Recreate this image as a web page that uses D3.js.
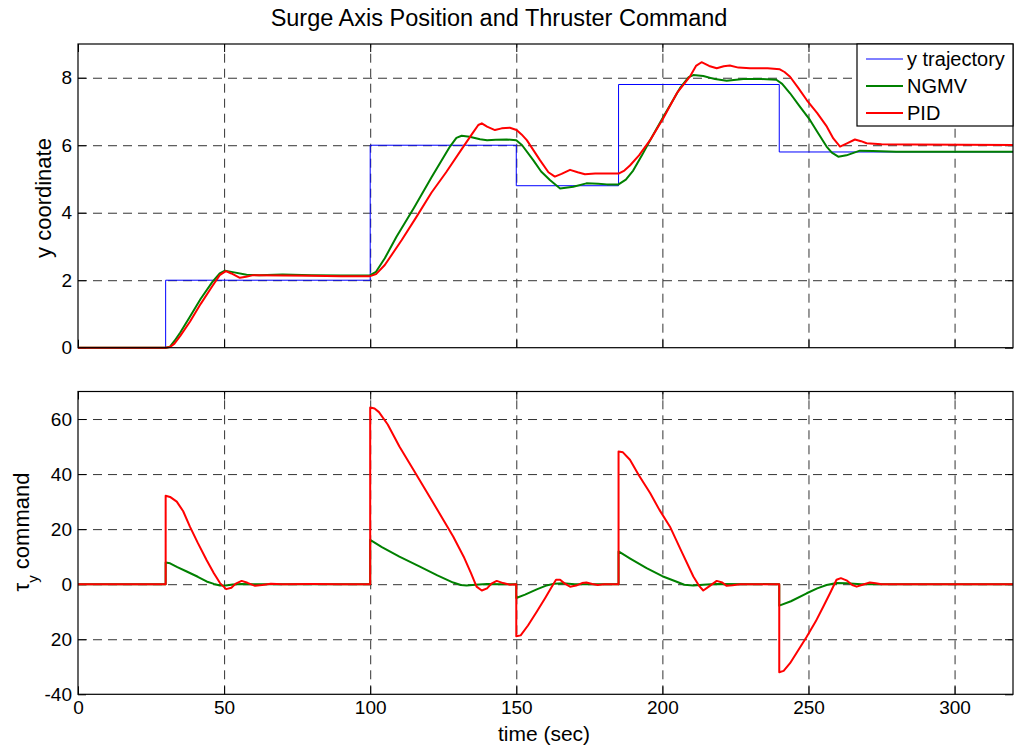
<!DOCTYPE html>
<html>
<head>
<meta charset="utf-8">
<script src="https://cdn.jsdelivr.net/npm/d3@7"></script>
<style>
  body { margin: 0; background: #fff; }
  svg text { font-family: "Liberation Sans", Arial, sans-serif; fill: #000; }
  .grid line { stroke: #333; stroke-width: 1; stroke-dasharray: 9,6; }
  .grid path { display: none; }
  .ticks path { display: none; }
  .ticks line { stroke: #000; }
</style>
</head>
<body>
<svg id="chart" width="1016" height="748"></svg>
<script>
// time axis
var timeTicks = [0, 50, 100, 150, 200, 250, 300];
var timeTickLabels = ["0", "50", "100", "150", "200", "250", "300"];

// top panel: surge axis position
var posTicks = [0, 2, 4, 6, 8];
var posTickLabels = ["0", "2", "4", "6", "8"];

var yTrajectory = [[0,0],[30,0],[30,2],[100,2],[100,6],[150,6],[150,4.8],[185,4.8],[185,7.8],[240,7.8],[240,5.8],[320,5.8]];

var ngmvPos = [[0,0],[30,0],[31.5,0.03],[33,0.2],[35,0.45],[38.3,0.92],[42,1.45],[46,1.95],[48.5,2.2],[50.3,2.28],
  [53,2.24],[57.7,2.16],[62,2.15],[70,2.17],[80,2.15],[90,2.14],[100,2.15],[102,2.25],[105,2.65],[109,3.29],
  [115,4.15],[121,5.05],[127.3,5.96],[129.5,6.22],[131.3,6.28],[134,6.25],[137.6,6.18],[140,6.15],[143,6.16],
  [146.7,6.17],[150,6.15],[152,6.0],[155.8,5.56],[158.5,5.22],[161.5,4.97],[165,4.72],[169.5,4.77],[174,4.87],
  [178,4.86],[181,4.84],[185,4.84],[187.5,4.98],[190,5.25],[193,5.7],[195.8,6.15],[200.3,6.84],[206,7.69],
  [209,8.02],[210.6,8.08],[214,8.05],[218,7.96],[222,7.91],[227.7,7.96],[234,7.96],[239,7.94],[241,7.82],
  [243.7,7.54],[247,7.15],[250.5,6.75],[253,6.4],[256.2,5.96],[258,5.78],[260.2,5.66],[263,5.7],[267.6,5.84],
  [272,5.83],[280,5.81],[320,5.81]];

var pidPos = [[0,0],[30,0],[31.5,0.02],[33,0.12],[35,0.35],[38.3,0.77],[42,1.3],[46,1.83],[48.5,2.15],[50.6,2.27],
  [52.5,2.2],[55.4,2.07],[57.5,2.1],[60,2.15],[70,2.14],[80,2.13],[90,2.12],[100,2.12],[102,2.18],[105,2.45],
  [110.8,3.19],[116,3.9],[121,4.6],[126,5.2],[131.9,5.96],[135,6.35],[137,6.6],[138.2,6.65],[140,6.55],
  [142.7,6.45],[145,6.5],[147.8,6.52],[150.1,6.45],[151.8,6.32],[153.6,6.15],[158.1,5.56],[161,5.2],[163.2,5.07],
  [165.5,5.15],[168.4,5.27],[171,5.2],[173.5,5.14],[177,5.16],[180,5.16],[185,5.16],[187,5.25],[188.9,5.4],
  [192,5.7],[195.8,6.15],[200.3,6.8],[205,7.55],[209.4,8.03],[211.5,8.35],[213.4,8.46],[216,8.35],[218.6,8.28],
  [221,8.34],[223.1,8.36],[226,8.3],[230,8.28],[236,8.28],[240.2,8.25],[241.8,8.17],[243.7,8.03],[246.5,7.7],
  [249.4,7.34],[253,6.95],[256.3,6.55],[258.5,6.2],[260.8,5.96],[263,6.05],[265.9,6.17],[268,6.12],[269.9,6.06],
  [275,6.03],[285,6.02],[320,6.01]];

// bottom panel: thruster command
var cmdTicks = [-40, -20, 0, 20, 40, 60];
var cmdTickLabels = ["-40", "20", "0", "20", "40", "60"];

var ngmvCmd = [[0,0],[30,0],[30,7.9],[31.5,7.6],[34,6.2],[37.2,4.6],[41,2.7],[44,1.0],[46.5,0.1],[48.6,-0.5],
  [50.5,-0.5],[53,-0.1],[56,0.1],[60,0],[100,0],[100,16.1],[104,13.5],[110,10],[117,6.4],[123,3.2],[128.4,0.6],
  [131,-0.3],[133,-0.5],[136,-0.2],[140,0.1],[145,0],[150,0],[150,-5],[153,-3.8],[157,-1.9],[160,-0.6],[163,0.2],
  [166,0.3],[170,0],[185,0],[185,11.9],[189,9.3],[194.6,5.8],[200,2.9],[204.9,0.9],[207.5,-0.2],[210.6,-0.5],
  [214,-0.2],[218,0.1],[240,0],[240,-7.8],[244,-6.2],[249.4,-3.3],[253,-1.5],[256.2,-0.3],[259.6,0.4],[263,0.3],
  [268,0],[320,0]];

var pidCmd = [[0,0],[30,0],[30,32.1],[31.5,31.7],[33.8,30.0],[36,26.5],[38.3,20.9],[41,15],[44,8.8],[46.5,4],
  [48.6,0.4],[50.7,-1.8],[52.5,-1.3],[54,0.2],[56,1.2],[58,0.5],[60.6,-0.6],[63,-0.3],[66,0.2],[70,0],[80,0.1],
  [90,0],[100,0],[100,64.2],[101.5,63.8],[103,62.5],[106,58],[110,50],[114.8,41.6],[121,30.6],[128.4,17.3],
  [132,10],[134.5,4],[136.4,-0.9],[138.2,-2.3],[140,-1.5],[141.5,0.2],[143.3,1.2],[145.5,0.4],[147.8,-0.2],
  [150,0],[150,-18.9],[151.5,-18.6],[154,-15],[157,-10],[160,-4.8],[162,-1.2],[163.6,1.6],[165,1.6],[166.5,0.3],
  [168.4,-0.9],[170.5,-0.5],[172.5,0.4],[174,0.6],[176,0.1],[177.9,-0.3],[180,0],[185,0],[185,48.2],[186.5,47.9],
  [188.9,45.2],[192,39.5],[195.8,33.1],[199,27],[202.6,20.9],[206.5,12],[210.6,2.8],[212.5,-0.5],[214,-2.3],
  [216,-0.8],[218.6,1.2],[220.5,0.6],[222,-0.6],[224,-0.4],[226.6,0],[240,0],[240,-32],[241.5,-31.5],
  [243.7,-28.7],[246.5,-24],[249.4,-19.1],[252.5,-13.5],[255.1,-8.1],[257.5,-3],[259.6,1.6],[261.1,2.2],
  [263,1.4],[265,-0.3],[266.5,-0.9],[268.5,-0.2],[271,0.6],[273,0.3],[275,0],[320,0]];

var legendNames = ["y trajectory", "NGMV", "PID"];
var seriesColors = ["#0000ff", "#008000", "#ff0000"];

var svg = d3.select("#chart");
svg.append("rect").attr("width", 1016).attr("height", 748).attr("fill", "#fff");

var left = 78, right = 1013;
var x = d3.scaleLinear().domain([0, 320]).range([left, right]);
var yTop = d3.scaleLinear().domain([0, 9]).range([347.7, 44]);
var yBot = d3.scaleLinear().domain([-40, 70]).range([694.3, 391.5]);

var line = function(y) {
  return d3.line().x(d => x(d[0])).y(d => y(d[1]));
};

function panel(y, yTicks, yLabels, showX) {
  var top = y.range()[1], bottom = y.range()[0],
      w = right - left, h = bottom - top;

  // grid
  svg.append("g").attr("class", "grid")
     .attr("transform", "translate(0," + bottom + ")")
     .call(d3.axisBottom(x).tickValues(timeTicks.slice(1)).tickSize(-h).tickFormat(""));
  svg.append("g").attr("class", "grid")
     .attr("transform", "translate(" + left + ",0)")
     .call(d3.axisLeft(y).tickValues(yTicks.filter(v => v != y.domain()[0])).tickSize(-w).tickFormat(""));

  // ticks on all four sides, pointing inward
  var xb = d3.axisBottom(x).tickValues(timeTicks).tickSize(-8).tickPadding(6);
  if (showX) xb.tickFormat((d, i) => timeTickLabels[i]); else xb.tickFormat("");
  svg.append("g").attr("class", "ticks").attr("transform", "translate(0," + bottom + ")").call(xb);
  svg.append("g").attr("class", "ticks").attr("transform", "translate(0," + top + ")")
     .call(d3.axisTop(x).tickValues(timeTicks).tickSize(-8).tickFormat(""));
  svg.append("g").attr("class", "ticks").attr("transform", "translate(" + left + ",0)")
     .call(d3.axisLeft(y).tickValues(yTicks).tickSize(-8).tickPadding(6).tickFormat((d, i) => yLabels[i]));
  svg.append("g").attr("class", "ticks").attr("transform", "translate(" + right + ",0)")
     .call(d3.axisRight(y).tickValues(yTicks).tickSize(-8).tickFormat(""));

  svg.selectAll(".ticks text").style("font-size", "19px");
}

panel(yTop, posTicks, posTickLabels, false);
panel(yBot, cmdTicks, cmdTickLabels, true);

// data lines
var topSeries = [yTrajectory, ngmvPos, pidPos];
topSeries.forEach(function(s, i) {
  svg.append("path").datum(s)
     .attr("d", line(yTop))
     .attr("fill", "none")
     .attr("stroke", seriesColors[i])
     .attr("stroke-width", i == 0 ? 1 : 2)
     .attr("stroke-linejoin", "round");
});
[ngmvCmd, pidCmd].forEach(function(s, i) {
  svg.append("path").datum(s)
     .attr("d", line(yBot))
     .attr("fill", "none")
     .attr("stroke", seriesColors[i + 1])
     .attr("stroke-width", 2)
     .attr("stroke-linejoin", "round");
});

// frames
[yTop, yBot].forEach(function(y) {
  svg.append("rect")
     .attr("x", left).attr("y", y.range()[1])
     .attr("width", right - left).attr("height", y.range()[0] - y.range()[1])
     .attr("fill", "none").attr("stroke", "#000").attr("stroke-width", 1.2);
});

// legend
var lg = svg.append("g").attr("transform", "translate(857,44)");
lg.append("rect").attr("width", 156).attr("height", 82)
  .attr("fill", "#fff").attr("stroke", "#000").attr("stroke-width", 1.2);
legendNames.forEach(function(name, i) {
  var cy = 15 + i * 27;
  lg.append("line").attr("x1", 9).attr("x2", 46).attr("y1", cy).attr("y2", cy)
    .attr("stroke", seriesColors[i]).attr("stroke-width", i == 0 ? 1 : 2);
  lg.append("text").attr("x", 50).attr("y", cy).attr("dy", "0.35em")
    .style("font-size", "20px").text(name);
});

// titles
svg.append("text").attr("x", 499).attr("y", 26).attr("text-anchor", "middle")
   .style("font-size", "23.5px").text("Surge Axis Position and Thruster Command");

svg.append("text").attr("x", 544).attr("y", 741).attr("text-anchor", "middle")
   .style("font-size", "21px").text("time (sec)");

svg.append("text").attr("transform", "translate(51,198) rotate(-90)")
   .attr("text-anchor", "middle").style("font-size", "22px").text("y coordinate");

var tl = svg.append("text").attr("transform", "translate(29,532) rotate(-90)")
   .attr("text-anchor", "middle").style("font-size", "22px");
tl.append("tspan").text("τ");
tl.append("tspan").attr("baseline-shift", "sub").style("font-size", "15px").text("y");
tl.append("tspan").text(" command");
</script>
</body>
</html>
